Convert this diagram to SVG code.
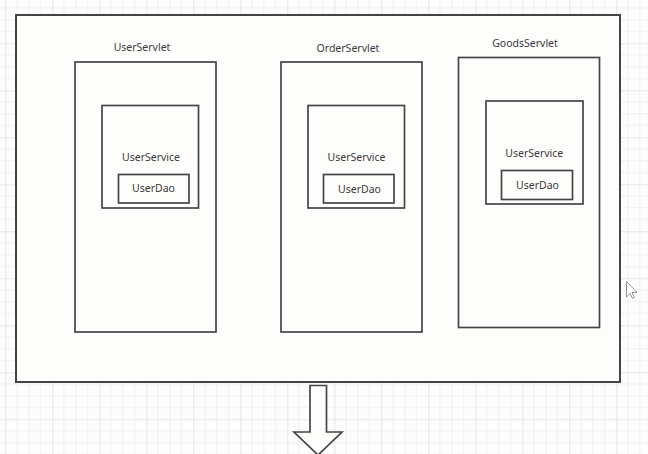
<svg xmlns="http://www.w3.org/2000/svg" width="648" height="454" viewBox="0 0 648 454">
<style>
.box{fill:#fdfdfb;stroke:#454545;stroke-width:1.7}
.outer{fill:#fdfdfb;stroke:#444;stroke-width:2}
.lbl{font-family:"Noto Sans","Open Sans",sans-serif;font-size:10.5px;fill:#3a3a3a;text-anchor:middle}
.minor{stroke:#f0f0f0;stroke-width:1}
.major{stroke:#e6e6e6;stroke-width:1}
</style>
<defs>
<pattern id="grid" patternUnits="userSpaceOnUse" x="5.3" y="-3.7" width="47" height="47">
<rect width="47" height="47" fill="#fdfdfd"/>
<path class="minor" d="M11.75 0V47M23.5 0V47M35.25 0V47M0 11.75H47M0 23.5H47M0 35.25H47"/>
<path class="major" d="M0.5 0V47M0 0.5H47"/>
</pattern>
</defs>
<rect width="648" height="454" fill="url(#grid)"/>
<g id="container">
<rect class="outer" x="16" y="15" width="604" height="367"/>
</g>
<g id="UserServlet">
<rect class="box" x="75" y="62" width="141" height="270"/>
<text class="lbl" x="142" y="51">UserServlet</text>
<g id="UserService1">
<rect class="box" x="102" y="105.5" width="96.5" height="102.5"/>
<text class="lbl" x="151" y="160.5">UserService</text>
<g id="UserDao1">
<rect class="box" x="118.5" y="174.5" width="70.5" height="28.5"/>
<text class="lbl" x="153.5" y="192">UserDao</text>
</g>
</g>
</g>
<g id="OrderServlet">
<rect class="box" x="281" y="62" width="141" height="270"/>
<text class="lbl" x="348" y="51.5">OrderServlet</text>
<g id="UserService2">
<rect class="box" x="308" y="105.5" width="96.5" height="102.5"/>
<text class="lbl" x="356.5" y="161">UserService</text>
<g id="UserDao2">
<rect class="box" x="323.5" y="174.5" width="70.5" height="28.5"/>
<text class="lbl" x="359.5" y="193">UserDao</text>
</g>
</g>
</g>
<g id="GoodsServlet">
<rect class="box" x="458.5" y="57.5" width="141" height="270"/>
<text class="lbl" x="525" y="47.3">GoodsServlet</text>
<g id="UserService3">
<rect class="box" x="486" y="101" width="97" height="103"/>
<text class="lbl" x="534.3" y="156.7">UserService</text>
<g id="UserDao3">
<rect class="box" x="501.5" y="170.5" width="71" height="29"/>
<text class="lbl" x="537.5" y="188.5">UserDao</text>
</g>
</g>
</g>
<g id="connectors">
<path d="M310 385.5H326.5V432H342L318 455L294 432H310Z" fill="#fdfdfb" stroke="#454545" stroke-width="1.7" stroke-linejoin="miter"/>
</g>
<path d="M626.5 281.5V297L630 293.5L632.5 298.5L634.5 297.5L632 292.5H637Z" fill="#fff" stroke="#777" stroke-width="0.8"/>
</svg>
